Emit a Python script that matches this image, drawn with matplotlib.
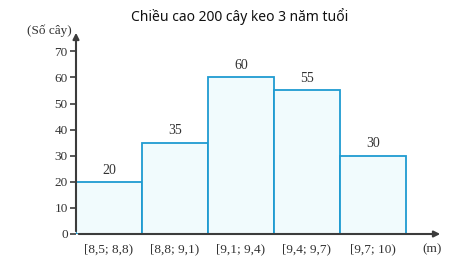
import matplotlib.pyplot as plt
import numpy as np

# du lieu
classes = ['[8,5; 8,8)', '[8,8; 9,1)', '[9,1; 9,4)', '[9,4; 9,7)', '[9,7; 10)']
counts = [20, 35, 60, 55, 30]
yticks = [0, 10, 20, 30, 40, 50, 60, 70]

serif = 'Liberation Serif'
txt_color = '#333333'
axis_color = '#3c3c3c'

fig = plt.figure(figsize=(4.69, 2.66), dpi=100)
ax = fig.add_axes([76 / 469, 1 - 234 / 266, (443 - 76) / 469, (234 - 30) / 266])

x = np.arange(len(counts)) + 0.5
ax.bar(x, counts, width=1.0, color='#f1fbfd', edgecolor='#1f9bd1', linewidth=1.3, zorder=2)
for xi, c in zip(x, counts):
    ax.text(xi, c + 2, str(c), ha='center', va='bottom', fontsize=10,
            family=serif, color=txt_color)

ax.set_xlim(0, (443 - 76) / 66)
ax.set_ylim(0, (234 - 30) / 26.1 * 10)

for s in ['top', 'right', 'left', 'bottom']:
    ax.spines[s].set_visible(False)

# truc co mui ten
ax.annotate('', xy=(1, 0), xytext=(0, 0), xycoords='axes fraction',
            arrowprops=dict(arrowstyle='-|>', color=axis_color, lw=1.5, mutation_scale=9))
ax.annotate('', xy=(0, 1), xytext=(0, 0), xycoords='axes fraction',
            arrowprops=dict(arrowstyle='-|>', color=axis_color, lw=1.5, mutation_scale=9))

ax.set_yticks(yticks)
ax.set_yticklabels([str(t) for t in yticks], family=serif, fontsize=9.5, color=txt_color)
ax.tick_params(axis='y', length=4, width=1.2, color=axis_color, pad=2)
ax.set_xticks(x)
ax.set_xticklabels(classes, family=serif, fontsize=9.5, color=txt_color)
ax.tick_params(axis='x', length=0, pad=7)

fig.text(432 / 469, 1 - 249 / 266, '(m)', family=serif, fontsize=9.5, color=txt_color,
         ha='center', va='center')
fig.text(72 / 469, 1 - 31 / 266, '(Số cây)', family=serif, fontsize=9.5, color=txt_color,
         ha='right', va='center')
fig.text(240 / 469, 1 - 17 / 266, 'Chiều cao 200 cây keo 3 năm tuổi', family='Noto Sans',
         fontsize=10, color='#111111', ha='center', va='center')

fig.savefig('out.png', dpi=100)
